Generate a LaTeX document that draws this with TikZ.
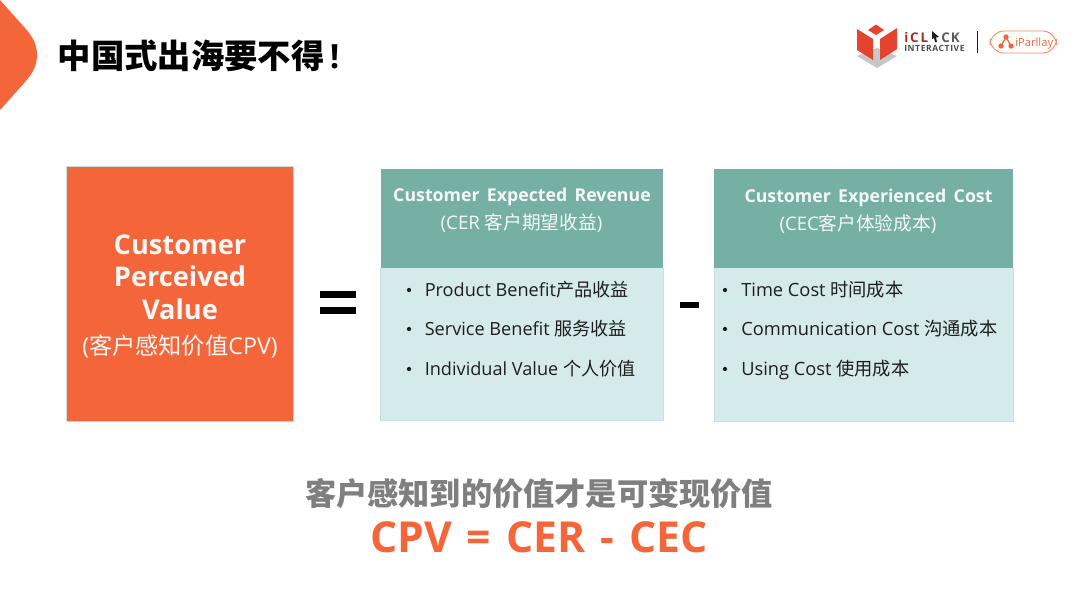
\documentclass[tikz,border=0pt]{standalone}
\usepackage{fontspec}
\setmainfont{Open Sans}
\newfontfamily\zhfont{Noto Sans CJK SC}
\newcommand{\zh}[1]{{\zhfont #1}}
\newcommand{\zhb}[1]{{\zhfont\bfseries #1}}
\newcommand{\fs}[1]{\fontsize{#1}{#1}\selectfont}
\definecolor{orangeA}{HTML}{F5653A}
\definecolor{tealH}{HTML}{76B0A5}
\definecolor{tealB}{HTML}{D5EAEA}
\definecolor{tealE}{HTML}{C9DEDD}
\definecolor{greyT}{HTML}{7F7F7F}
\definecolor{whiteT}{HTML}{F4F8F7}
\definecolor{darkT}{HTML}{1E1E1E}
\definecolor{logoR}{HTML}{E5432E}
\tikzset{x=0.75pt,y=-0.75pt,
  lbl/.style={inner sep=0pt,anchor=base west,text=darkT},
  ctr/.style={inner sep=0pt,anchor=base,align=center},
  head/.style={fill=tealH,draw=none},
  bul/.style={circle,fill=darkT,inner sep=0pt,minimum size=3.2pt}}
\begin{document}
\begin{tikzpicture}
\useasboundingbox (0,0) rectangle (1080,608);
\fill[white] (0,0) rectangle (1080,608);
% corner tab
\fill[orangeA] (0,0) -- (25,28) .. controls (34,38) and (37,46) .. (37,55) .. controls (37,64) and (34,72) .. (25,82) -- (0,110) -- cycle;
\node[lbl,text=black] (title) at (57.5,68) {\fs{25}\zhb{中国式出海要不得}\hspace{4pt}\textbf{!}};
% logo
\fill[black!22] (857,56) -- (877,48) -- (897,56) -- (877,68) -- cycle;
\fill[logoR] (876,24.5) -- (884,30) -- (876,35) -- (868,30) -- cycle;
\fill[logoR] (857,29) -- (873,39) -- (873,60) -- (857,50) -- cycle;
\fill[logoR] (897,28) -- (880,39) -- (880,60) -- (897,49) -- cycle;
\node[lbl,text=logoR!70!black] (ick) at (904,42) {\fs{10}\addfontfeature{LetterSpace=14}\textbf{iCL}};
\fill[darkT] (932,31) -- (939,37) -- (936,37.5) -- (937,42) -- (935,42) -- (934,38) -- (932,39) -- cycle;
\node[lbl,text=greyT!70!black] (ick2) at (941,42) {\fs{10}\addfontfeature{LetterSpace=8}\textbf{CK}};
\node[lbl,text=greyT!60!black] (inter) at (904,51) {\fs{6.4}\addfontfeature{LetterSpace=7}\textbf{INTERACTIVE}};
\draw[darkT,line width=0.6pt] (977,31) -- (977,53);
\draw[orangeA!75,fill=white,line width=0.7pt,rounded corners=10.5pt] (990,31) rectangle (1056.5,53);
\fill[orangeA] (1001,46) circle (2pt) (1006,37) circle (2pt) (1011,46) circle (2pt);
\draw[orangeA,line width=0.9pt] (1001,46) -- (1006,37) -- (1011,46);
\node[lbl,text=orangeA] (ipar) at (1015,46.5) {\fs{8.4}iParllay};
% left box
\node[fill=orangeA,draw=tealE,line width=0.4pt,minimum width=227pt*0.75,minimum height=255pt*0.75,inner sep=0pt,anchor=north west] (cpv) at (66,165.5) {};
\node[ctr,text=whiteT] (c1) at (180,254) {\fs{20.4}\textbf{Customer}};
\node[ctr,text=whiteT] (c2) at (180,286) {\fs{20.4}\textbf{Perceived}};
\node[ctr,text=whiteT] (c3) at (180,319) {\fs{20.4}\textbf{Value}};
\node[ctr,text=whiteT] (c4) at (180,354) {\fs{17.4}(\zh{客户感知价值}CPV)};
% equals
\fill[black] (320,291) rectangle (356,297.5);
\fill[black] (320,307) rectangle (356,313.5);
% box 1
\fill[head] (380.5,169) rectangle (663,268);
\fill[tealB] (380.5,268) rectangle (663,420);
\draw[tealE,line width=0.5pt] (380.5,268) -- (380.5,420) -- (663,420) -- (663,268);
\node[ctr,text=whiteT] (h1) at (522,201.5) {\fs{13.3}\textbf{Customer\hspace{2pt} Expected\hspace{2pt} Revenue}};
\node[ctr,text=whiteT] (s1) at (521.5,229) {\fs{14}(CER \zh{客户期望收益})};
\node[bul] (b11) at (409,290) {};
\node[lbl] (t11) at (424.5,296) {\fs{13.6}Product Benefit\zh{产品收益}};
\node[bul] (b12) at (409,329) {};
\node[lbl] (t12) at (424.5,335) {\fs{13.6}Service Benefit \zh{服务收益}};
\node[bul] (b13) at (409,369) {};
\node[lbl] (t13) at (424.5,375) {\fs{13.6}Individual Value \zh{个人价值}};
% minus
\fill[black] (680,302) rectangle (698.5,308);
% box 2
\fill[head] (714,169) rectangle (1013,268);
\fill[tealB] (714,268) rectangle (1013,421);
\draw[tealE,line width=0.5pt] (714,268) -- (714,421) -- (1013,421) -- (1013,268);
\node[ctr,text=whiteT] (h2) at (868.5,202) {\fs{13.3}\textbf{Customer\hspace{2pt} Experienced\hspace{2pt} Cost}};
\node[ctr,text=whiteT] (s2) at (858,230) {\fs{14}(CEC\zh{客户体验成本})};
\node[bul] (b21) at (725,290) {};
\node[lbl] (t21) at (741,296) {\fs{13.7}Time Cost \zh{时间成本}};
\node[bul] (b22) at (725,329) {};
\node[lbl] (t22) at (741,335) {\fs{13.7}Communication Cost \zh{沟通成本}};
\node[bul] (b23) at (725,369) {};
\node[lbl] (t23) at (741,375) {\fs{13.7}Using Cost \zh{使用成本}};
% bottom
\node[ctr,text=greyT] (z) at (539,505) {\fs{23.4}\zhb{客户感知到的价值才是可变现价值}};
\node[ctr,text=orangeA] (f) at (539,552) {\fs{32}\textbf{CPV\hspace{3pt} =\hspace{3pt} CER\hspace{3pt} -\hspace{3pt} CEC}};
\end{tikzpicture}
\end{document}
